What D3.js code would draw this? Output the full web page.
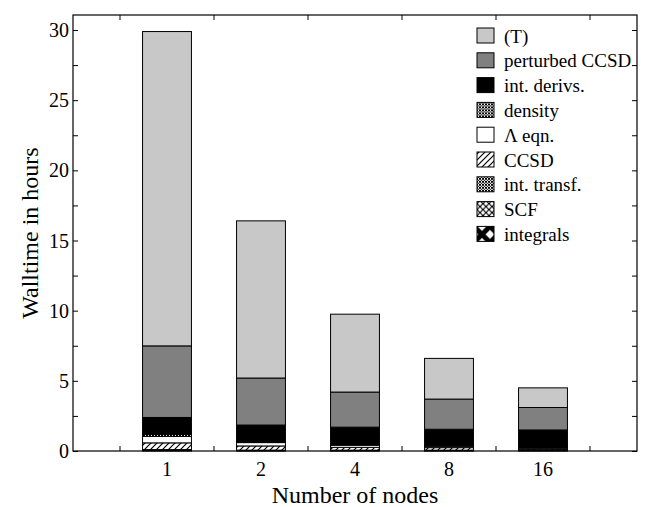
<!DOCTYPE html>
<html>
<head>
<meta charset="utf-8">
<script src="https://cdn.jsdelivr.net/npm/d3@7"></script>
</head>
<body style="margin:0">
<script>
var nodes = ["1", "2", "4", "8", "16"];

// stacked from the bottom up
var integrals   = [0.03, 0.02, 0.02, 0.02, 0.02];
var scf         = [0.04, 0.02, 0.02, 0.02, 0.02];
var intTransf   = [0.03, 0.02, 0.02, 0.02, 0.02];
var ccsd        = [0.48, 0.30, 0.20, 0.18, 0.08];
var lambdaEqn   = [0.46, 0.24, 0.15, 0.10, 0.08];
var density     = [0.15, 0.05, 0.04, 0.03, 0.04];
var intDerivs   = [1.20, 1.20, 1.25, 1.18, 1.24];
var pertCCSD    = [5.10, 3.35, 2.50, 2.15, 1.60];
var triples     = [22.4, 11.2, 5.55, 2.90, 1.40];

var seriesNames = ["integrals", "SCF", "int. transf.", "CCSD", "\u039b eqn.",
                   "density", "int. derivs.", "perturbed CCSD", "(T)"];
var seriesValues = [integrals, scf, intTransf, ccsd, lambdaEqn,
                    density, intDerivs, pertCCSD, triples];
var yTicks = [0, 5, 10, 15, 20, 25, 30];

var width = 647, height = 507;
var plotLeft = 73, plotRight = 637, plotTop = 15, plotBottom = 451;
var fontFam = "'Liberation Serif'";

var svg = d3.select('body').append('svg')
  .attr('width', width)
  .attr('height', height);

// patterns for the small segments
var defs = svg.append('defs');

var fine = function(id) {
  var p = defs.append('pattern').attr('id', id)
    .attr('patternUnits', 'userSpaceOnUse').attr('width', 3).attr('height', 3);
  p.append('rect').attr('width', 3).attr('height', 3).attr('fill', '#fff');
  p.append('path').attr('d', 'M0,0L3,3M3,0L0,3').attr('stroke', '#000').attr('stroke-width', 1);
};
fine('p-density');
fine('p-transf');

var hatch = defs.append('pattern').attr('id', 'p-ccsd')
  .attr('patternUnits', 'userSpaceOnUse').attr('width', 6).attr('height', 6);
hatch.append('rect').attr('width', 6).attr('height', 6).attr('fill', '#fff');
hatch.append('path').attr('d', 'M-1,7L7,-1M-1,1L1,-1M5,7L7,5')
  .attr('stroke', '#000').attr('stroke-width', 1.2);

var cross = defs.append('pattern').attr('id', 'p-scf')
  .attr('patternUnits', 'userSpaceOnUse').attr('width', 6).attr('height', 6);
cross.append('rect').attr('width', 6).attr('height', 6).attr('fill', '#fff');
cross.append('path').attr('d', 'M0,0L6,6M6,0L0,6')
  .attr('stroke', '#000').attr('stroke-width', 1.1);

var bigx = defs.append('pattern').attr('id', 'p-int')
  .attr('patternUnits', 'userSpaceOnUse').attr('width', 16).attr('height', 16)
  .attr('x', 477).attr('y', 8);
bigx.append('rect').attr('width', 16).attr('height', 16).attr('fill', '#fff');
bigx.append('path').attr('d', 'M0,0L16,16M16,0L0,16')
  .attr('stroke', '#000').attr('stroke-width', 5);

var fills = ['url(#p-int)', 'url(#p-scf)', 'url(#p-transf)', 'url(#p-ccsd)', '#fff',
             'url(#p-density)', '#000', '#808080', '#c8c8c8'];

// scales
var x = d3.scaleBand().domain(nodes).range([plotLeft + 47, plotRight - 47]);
var y = d3.scaleLinear().domain([0, 30]).range([plotBottom, 30]);

var barW = x.bandwidth() * 0.52;

// stack data
var rows = nodes.map(function(n, i) {
  var r = { node: n };
  seriesNames.forEach(function(s, k) { r[s] = seriesValues[k][i]; });
  return r;
});
var stacked = d3.stack().keys(seriesNames)(rows);

var layers = svg.selectAll('g.layer')
  .data(stacked)
  .enter().append('g')
  .attr('class', 'layer')
  .attr('fill', function(d, i) { return fills[i]; });

layers.selectAll('rect')
  .data(function(d) { return d; })
  .enter().append('rect')
  .attr('x', function(d) { return x(d.data.node) + (x.bandwidth() - barW) / 2; })
  .attr('width', barW)
  .attr('y', function(d) { return y(d[1]); })
  .attr('height', function(d) { return y(d[0]) - y(d[1]); })
  .attr('stroke', '#000')
  .attr('stroke-width', 1);

// frame
svg.append('rect')
  .attr('x', plotLeft).attr('y', plotTop)
  .attr('width', plotRight - plotLeft).attr('height', plotBottom - plotTop)
  .attr('fill', 'none').attr('stroke', '#000').attr('stroke-width', 1.2);

// y ticks inward on both sides
svg.append('g').attr('transform', 'translate(' + plotLeft + ',0)')
  .call(d3.axisRight(y).tickValues(d3.range(0, 30.1, 2.5)).tickSize(5).tickFormat(''))
  .select('.domain').remove();
svg.append('g').attr('transform', 'translate(' + plotRight + ',0)')
  .call(d3.axisLeft(y).tickValues(d3.range(0, 30.1, 2.5)).tickSize(5).tickFormat(''))
  .select('.domain').remove();

svg.selectAll('text.ylab')
  .data(yTicks)
  .enter().append('text')
  .attr('class', 'ylab')
  .attr('x', plotLeft - 4)
  .attr('y', function(d) { return y(d); })
  .attr('dy', '0.35em')
  .attr('text-anchor', 'end')
  .attr('font-size', 20)
  .style('font-family', fontFam)
  .text(function(d) { return d; });

// x ticks at the band edges
var edges = nodes.map(function(n) { return x(n); }).concat([x.range()[1]]);
svg.selectAll('line.xt')
  .data(edges)
  .enter().append('line')
  .attr('class', 'xt')
  .attr('x1', function(d) { return d; }).attr('x2', function(d) { return d; })
  .attr('y1', plotBottom).attr('y2', plotBottom - 5)
  .attr('stroke', '#000');
svg.selectAll('line.xtt')
  .data(edges)
  .enter().append('line')
  .attr('class', 'xtt')
  .attr('x1', function(d) { return d; }).attr('x2', function(d) { return d; })
  .attr('y1', plotTop).attr('y2', plotTop + 5)
  .attr('stroke', '#000');

svg.selectAll('text.xlab')
  .data(nodes)
  .enter().append('text')
  .attr('class', 'xlab')
  .attr('x', function(d) { return x(d) + x.bandwidth() / 2; })
  .attr('y', plotBottom + 25)
  .attr('text-anchor', 'middle')
  .attr('font-size', 20)
  .style('font-family', fontFam)
  .text(function(d) { return d; });

svg.append('text')
  .attr('x', (plotLeft + plotRight) / 2)
  .attr('y', 503)
  .attr('text-anchor', 'middle')
  .attr('font-size', 24)
  .style('font-family', fontFam)
  .text('Number of nodes');

svg.append('text')
  .attr('transform', 'translate(38,' + ((plotTop + plotBottom) / 2) + ') rotate(-90)')
  .attr('text-anchor', 'middle')
  .attr('font-size', 24)
  .style('font-family', fontFam)
  .text('Walltime in hours');

// legend, top entry is the top of the stack
var legend = svg.selectAll('g.leg')
  .data(d3.range(seriesNames.length).reverse())
  .enter().append('g')
  .attr('class', 'leg')
  .attr('transform', function(d, i) { return 'translate(477,' + (36 + i * 24.8) + ')'; });

legend.append('rect')
  .attr('x', 0).attr('y', -8)
  .attr('width', 17).attr('height', 15)
  .attr('fill', function(d) { return fills[d]; })
  .attr('stroke', '#000').attr('stroke-width', 1);

legend.append('text')
  .attr('x', 27).attr('y', 0)
  .attr('dy', '0.35em')
  .attr('font-size', 19)
  .style('font-family', fontFam)
  .text(function(d) { return seriesNames[d]; });
</script>
</body>
</html>
